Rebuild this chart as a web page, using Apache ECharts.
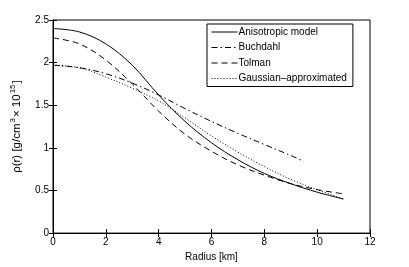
<!DOCTYPE html>
<html>
<head>
<meta charset="utf-8">
<script src="https://cdn.jsdelivr.net/npm/echarts@6/dist/echarts.min.js"></script>
<style>
html,body{margin:0;padding:0;background:#fff;}
#c{width:409px;height:267px;}
</style>
</head>
<body>
<div id="c"></div>
<script>
// ---- data ----
const radius = [0, 1, 2, 3, 4, 5, 6, 7, 8, 9, 10, 11];
const radiusBuchdahl = [0, 1, 2, 3, 4, 5, 6, 7, 8, 9, 9.5];
const anisotropic = [2.40, 2.36, 2.22, 1.97, 1.62, 1.31, 1.06, 0.86, 0.70, 0.58, 0.48, 0.40];
const buchdahl = [1.97, 1.94, 1.87, 1.76, 1.62, 1.46, 1.31, 1.17, 1.04, 0.91, 0.84];
const tolman = [2.29, 2.22, 2.03, 1.75, 1.43, 1.16, 0.96, 0.80, 0.68, 0.58, 0.51, 0.46];
const gaussian = [1.97, 1.94, 1.83, 1.70, 1.55, 1.35, 1.14, 0.95, 0.78, 0.63, 0.51, 0.40];
const seriesNames = ['Anisotropic model', 'Buchdahl', 'Tolman', 'Gaussian\u2013approximated'];
const xTicks = [0, 2, 4, 6, 8, 10, 12];
const yTicks = [0, 0.5, 1, 1.5, 2, 2.5];

function pairs(xs, ys) { return xs.map((x, i) => [x, ys[i]]); }

const FONT = 'Liberation Sans';
const chart = echarts.init(document.getElementById('c'), null, {renderer: 'canvas'});

const axisCommon = {
  axisLine: {show: true, lineStyle: {color: '#000', width: 1}},
  axisTick: {show: true, inside: true, length: 4, lineStyle: {color: '#000'}},
  splitLine: {show: false}
};

function lineSeries(name, xs, ys, type, z) {
  return {
    name: name, type: 'line', data: pairs(xs, ys), smooth: 0.35,
    showSymbol: false, symbol: 'none', symbolSize: 0,
    lineStyle: {color: '#000', width: 1, type: type},
    itemStyle: {color: '#000', opacity: 0}, z: z
  };
}

chart.setOption({
  animation: false,
  backgroundColor: '#fff',
  textStyle: {fontFamily: FONT},
  grid: {left: 53, right: 39, top: 20, bottom: 31, show: true, borderColor: '#000', borderWidth: 1, backgroundColor: 'transparent'},
  legend: {
    orient: 'vertical',
    left: 207,
    top: 24,
    width: 160,
    itemWidth: 26,
    itemHeight: 8,
    itemGap: 5.5,
    padding: [3, 6, 3, 4],
    borderColor: '#000',
    borderWidth: 1,
    backgroundColor: '#fff',
    itemStyle: {opacity: 0, borderWidth: 0},
    lineStyle: {color: '#000', width: 1},
    textStyle: {fontFamily: FONT, fontSize: 10, color: '#000', padding: [0, 0, 0, -4]},
    data: seriesNames
  },
  xAxis: [
    Object.assign({
      type: 'value', min: xTicks[0], max: xTicks[xTicks.length - 1], interval: 2,
      name: 'Radius [km]', nameLocation: 'middle', nameGap: 17,
      nameTextStyle: {fontFamily: FONT, fontSize: 10, color: '#000'},
      axisLabel: {fontFamily: FONT, fontSize: 10, color: '#000', margin: 4}
    }, axisCommon),
    Object.assign({
      type: 'value', min: xTicks[0], max: xTicks[xTicks.length - 1], interval: 2, position: 'top',
      axisLabel: {show: false}
    }, axisCommon)
  ],
  yAxis: [
    Object.assign({
      type: 'value', min: yTicks[0], max: yTicks[yTicks.length - 1], interval: 0.5,
      name: '{a|\u03c1(r) [g/cm}{s|3}{a|\u00d7 10}{s|15}{a|]}', nameLocation: 'middle', nameGap: 30, nameRotate: 90,
      nameTextStyle: {
        fontFamily: FONT, fontSize: 11, color: '#000',
        rich: {
          a: {fontFamily: FONT, fontSize: 11.5, color: '#000', verticalAlign: 'bottom', lineHeight: 14},
          s: {fontFamily: FONT, fontSize: 8, color: '#000', verticalAlign: 'top', lineHeight: 14, padding: [0, 1, 6, 1]}
        }
      },
      axisLabel: {fontFamily: FONT, fontSize: 10, color: '#000', margin: 4}
    }, axisCommon),
    Object.assign({
      type: 'value', min: yTicks[0], max: yTicks[yTicks.length - 1], interval: 0.5, position: 'right',
      axisLabel: {show: false}
    }, axisCommon)
  ],
  series: [
    lineSeries(seriesNames[0], radius, anisotropic, 'solid', 5),
    lineSeries(seriesNames[1], radiusBuchdahl, buchdahl, [6, 3, 1.5, 3], 4),
    lineSeries(seriesNames[2], radius, tolman, [6, 4], 3),
    lineSeries(seriesNames[3], radius, gaussian, [1, 2], 2)
  ]
});
</script>
</body>
</html>
